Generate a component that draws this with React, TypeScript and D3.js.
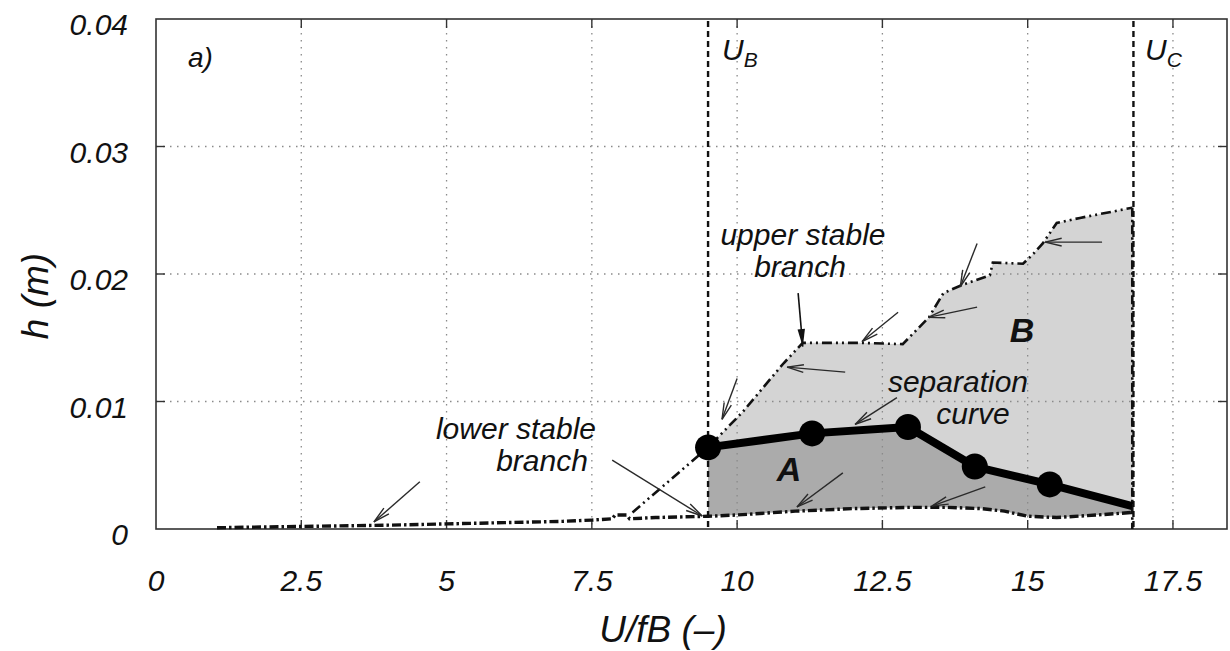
import * as d3 from 'd3';

// axis ticks
const xTicks = [0, 2.5, 5, 7.5, 10, 12.5, 15, 17.5];
const xTickLabels = ['0', '2.5', '5', '7.5', '10', '12.5', '15', '17.5'];
const yTicks = [0, 0.01, 0.02, 0.03, 0.04];
const yTickLabels = ['0', '0.01', '0.02', '0.03', '0.04'];

// lower stable branch (U/fB, h)
const lowerX = [1.05, 2.5, 4, 5, 6, 7, 7.5, 7.85, 7.9, 8.1, 8.15, 8.6, 9.5, 10, 11, 12, 13, 13.6, 14.2, 14.6, 15, 15.5, 16.2, 16.8];
const lowerH = [0.0001, 0.0002, 0.0003, 0.0004, 0.0005, 0.0006, 0.0007, 0.0008, 0.0011, 0.0011, 0.0008, 0.0009, 0.001, 0.0011, 0.0014, 0.0016, 0.0017, 0.0017, 0.0016, 0.0014, 0.001, 0.0009, 0.0011, 0.0013];

// upper stable branch
const upperX = [8.2, 9.5, 10.1, 10.8, 11.13, 12.1, 12.85, 13.3, 13.55, 13.85, 14.35, 14.4, 14.92, 15.1, 15.26, 15.5, 15.9, 16.47, 16.8];
const upperH = [0.0013, 0.0064, 0.0092, 0.013, 0.0146, 0.0146, 0.0145, 0.0166, 0.0185, 0.0191, 0.0199, 0.0209, 0.0208, 0.0216, 0.0224, 0.024, 0.0244, 0.0249, 0.0252];

// separation curve (last point has no marker)
const sepX = [9.5, 11.29, 12.94, 14.09, 15.38, 16.8];
const sepH = [0.0064, 0.0075, 0.008, 0.0049, 0.0035, 0.0018];

const uB = 9.5;
const uC = 16.82;

// annotation arrows: [x1, h1, x2, h2]
const arrows = [
  [4.54, 0.0037, 3.75, 0.00055],
  [7.85, 0.0054, 9.4, 0.00102],
  [11.82, 0.0044, 11.03, 0.00173],
  [14.27, 0.0033, 13.35, 0.0018],
  [12.75, 0.0103, 12.03, 0.0082],
  [12.77, 0.017, 12.15, 0.0147],
  [11.86, 0.0123, 10.86, 0.0127],
  [10.0, 0.0118, 9.74, 0.0086],
  [14.13, 0.0224, 13.84, 0.019],
  [14.13, 0.0174, 13.29, 0.0166],
  [16.28, 0.0225, 15.3, 0.0225],
];
const labelArrow = [11.05, 0.0185, 11.13, 0.0143];

const W = 1230;
const H = 651;
const x = d3.scaleLinear().domain([0, 18.43]).range([156, 1227]);
const y = d3.scaleLinear().domain([0, 0.04]).range([529, 19]);

const font = '"Liberation Sans", Arial, sans-serif';

function head(a: number[], L: number, th: number) {
  const x1 = x(a[0]), y1 = y(a[1]), x2 = x(a[2]), y2 = y(a[3]);
  const ang = Math.atan2(y2 - y1, x2 - x1);
  const t = (th * Math.PI) / 180;
  const p1 = [x2 - L * Math.cos(ang - t), y2 - L * Math.sin(ang - t)];
  const p2 = [x2 - L * Math.cos(ang + t), y2 - L * Math.sin(ang + t)];
  return { x1, y1, x2, y2, p1, p2 };
}

export default function App() {
  const lowerPts: [number, number][] = lowerX.map((v, i) => [x(v), y(lowerH[i])]);
  const upperPts: [number, number][] = upperX.map((v, i) => [x(v), y(upperH[i])]);
  const sepPts: [number, number][] = sepX.map((v, i) => [x(v), y(sepH[i])]);
  const path = d3.line();

  // region B: upper branch from U_B to the end, back along the separation curve
  const upperFromB = upperPts.filter((_, i) => upperX[i] >= uB);
  const regionB = [...upperFromB, ...sepPts.slice().reverse()];
  // region A: separation curve, back along the lower branch
  const lowerFromB = lowerPts.filter((_, i) => lowerX[i] >= uB);
  const regionA = [...sepPts, ...lowerFromB.slice().reverse()];

  const xEnd = x(lowerX[lowerX.length - 1]);

  return (
    <svg width={W} height={H} style={{ position: 'absolute', left: 0, top: 0, background: '#fff' }}>
      <rect x={0} y={0} width={W} height={H} fill="#fff" />
      {/* shaded regions */}
      <path d={path(regionB) + 'Z'} fill="#d4d4d4" />
      <path d={path(regionA) + 'Z'} fill="#ababab" />

      {/* grid */}
      <g stroke="#8a8a8a" strokeWidth={1.3} strokeDasharray="1.5,5.5">
        {xTicks.slice(1).map((t) => (
          <line key={t} x1={x(t)} x2={x(t)} y1={y(0.04)} y2={y(0)} />
        ))}
        {yTicks.slice(1, 4).map((t) => (
          <line key={t} x1={x(0)} x2={x(18.43)} y1={y(t)} y2={y(t)} />
        ))}
      </g>

      {/* frame and ticks */}
      <rect x={x(0)} y={y(0.04)} width={x(18.43) - x(0)} height={y(0) - y(0.04)} fill="none" stroke="#333" strokeWidth={1.6} />
      <g stroke="#333" strokeWidth={1.4}>
        {xTicks.slice(1).map((t) => (
          <g key={t}>
            <line x1={x(t)} x2={x(t)} y1={y(0)} y2={y(0) - 9} />
            <line x1={x(t)} x2={x(t)} y1={y(0.04)} y2={y(0.04) + 9} />
          </g>
        ))}
        {yTicks.slice(1, 4).map((t) => (
          <g key={t}>
            <line x1={x(0)} x2={x(0) + 9} y1={y(t)} y2={y(t)} />
            <line x1={x(18.43)} x2={x(18.43) - 9} y1={y(t)} y2={y(t)} />
          </g>
        ))}
      </g>

      {/* U_B and U_C */}
      <g stroke="#111" strokeWidth={2.4} strokeDasharray="6,4">
        <line x1={x(uB)} x2={x(uB)} y1={y(0.04) + 2} y2={y(0)} />
        <line x1={x(uC)} x2={x(uC)} y1={y(0.04) + 2} y2={y(0)} />
      </g>

      {/* stable branches */}
      <path d={path(lowerPts) ?? ''} fill="none" stroke="#111" strokeWidth={3.4} strokeDasharray="9,3,2.5,3" />
      <path d={path(upperPts) ?? ''} fill="none" stroke="#111" strokeWidth={2.6} strokeDasharray="10,4,2,4,2,4" />
      <line x1={xEnd} x2={xEnd} y1={y(upperH[upperH.length - 1])} y2={y(0)} stroke="#111" strokeWidth={2.6} strokeDasharray="9,3,2.5,3" />

      {/* separation curve */}
      <path d={path(sepPts) ?? ''} fill="none" stroke="#000" strokeWidth={8} strokeLinejoin="round" />
      {sepPts.slice(0, 5).map((p, i) => (
        <circle key={i} cx={p[0]} cy={p[1]} r={13} fill="#000" />
      ))}

      {/* arrows */}
      <g stroke="#2a2a2a" strokeWidth={1.4} fill="none">
        {arrows.map((a, i) => {
          const h = head(a, 17, 13);
          return (
            <g key={i}>
              <line x1={h.x1} y1={h.y1} x2={h.x2} y2={h.y2} />
              <path d={`M${h.p1[0]},${h.p1[1]}L${h.x2},${h.y2}L${h.p2[0]},${h.p2[1]}`} />
            </g>
          );
        })}
      </g>
      {(() => {
        const h = head(labelArrow, 18, 12);
        return (
          <g>
            <line x1={h.x1} y1={h.y1} x2={h.x2} y2={h.y2} stroke="#111" strokeWidth={1.6} />
            <path d={`M${h.p1[0]},${h.p1[1]}L${h.x2},${h.y2}L${h.p2[0]},${h.p2[1]}Z`} fill="#111" />
          </g>
        );
      })()}

      {/* tick labels */}
      <g fontFamily={font} fontStyle="italic" fontSize={30} fill="#111">
        {xTicks.map((t, i) => (
          <text key={t} x={x(t)} y={591} textAnchor="middle">{xTickLabels[i]}</text>
        ))}
        {yTicks.map((t, i) => (
          <text key={t} x={128} y={y(t) + 16} textAnchor="end">{yTickLabels[i]}</text>
        ))}
      </g>

      {/* axis titles */}
      <g fontFamily={font} fontStyle="italic" fontSize={37} fill="#111">
        <text x={663} y={642} textAnchor="middle">U/fB (–)</text>
        <text transform="translate(48,296) rotate(-90)" textAnchor="middle">h (m)</text>
      </g>

      {/* annotations */}
      <g fontFamily={font} fontStyle="italic" fontSize={30} fill="#111">
        <text x={188} y={67} fontSize={28}>a)</text>
        <text x={722} y={60} fontSize={30}>U<tspan fontSize={21} dy={7}>B</tspan></text>
        <text x={1145} y={60} fontSize={30}>U<tspan fontSize={21} dy={7}>C</tspan></text>
        <text x={803} y={245} textAnchor="middle">upper stable</text>
        <text x={800} y={277} textAnchor="middle">branch</text>
        <text x={516} y={439} textAnchor="middle">lower stable</text>
        <text x={542} y={471} textAnchor="middle">branch</text>
        <text x={958} y={392} textAnchor="middle">separation</text>
        <text x={973} y={424} textAnchor="middle">curve</text>
        <text x={789} y={481} textAnchor="middle" fontWeight="bold" fontSize={34}>A</text>
        <text x={1022} y={342} textAnchor="middle" fontWeight="bold" fontSize={34}>B</text>
      </g>
    </svg>
  );
}
